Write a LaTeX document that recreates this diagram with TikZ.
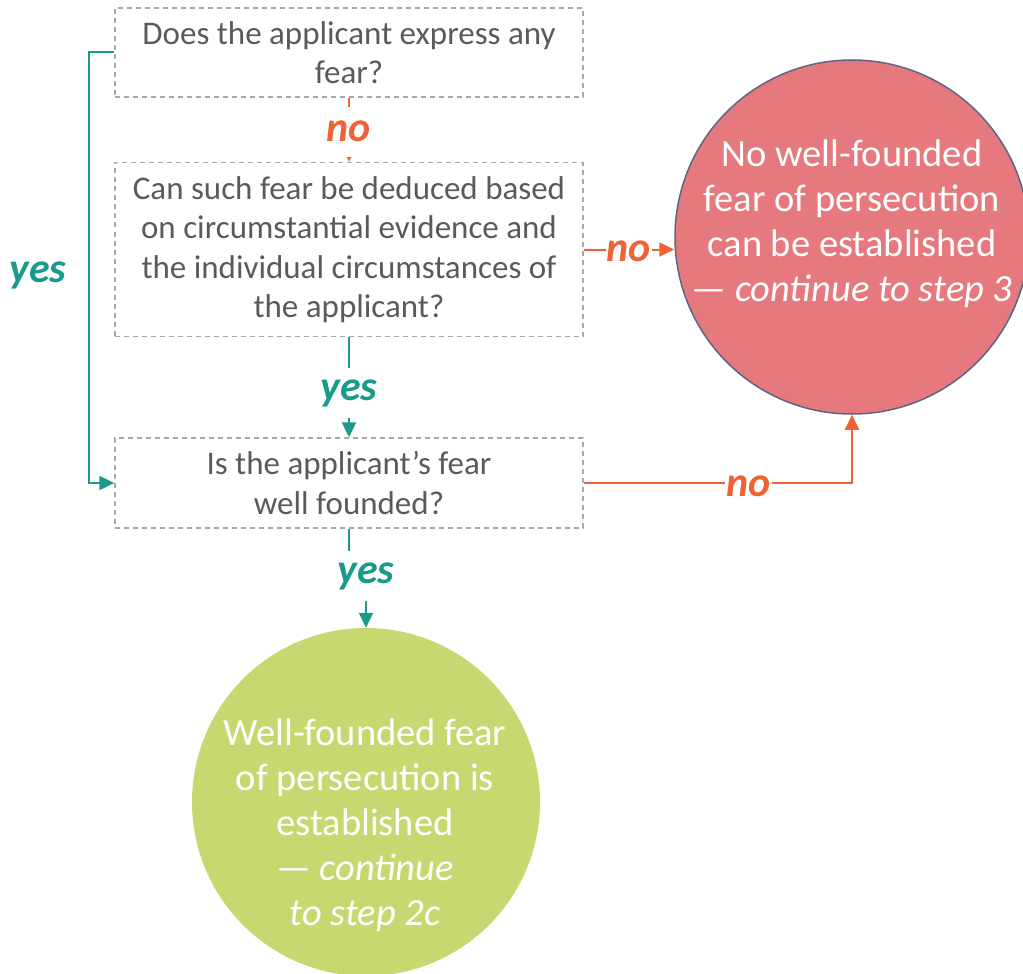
\documentclass[tikz,border=0pt]{standalone}
\usepackage{fontspec}
\setmainfont{Carlito}
\usetikzlibrary{arrows.meta}
\definecolor{flowteal}{HTML}{1A9A8A}
\definecolor{floworange}{HTML}{EF6236}
\definecolor{qtext}{HTML}{5A5A5A}
\definecolor{qframe}{HTML}{A8A8A8}
\definecolor{redfill}{HTML}{E6797D}
\definecolor{redrim}{HTML}{5D6582}
\definecolor{greenfill}{HTML}{C6D971}
\begin{document}
\begin{tikzpicture}[x=1pt,y=-1pt,
  question/.style={draw=qframe, dash pattern=on 5pt off 4pt, line width=1.3pt,
    minimum width=468pt, text=qtext, align=center, inner sep=0pt,
    font=\fontsize{33}{39.5}\selectfont},
  answer/.style={font=\fontsize{42}{42}\selectfont\bfseries\itshape,
    fill=white, inner xsep=1pt, inner ysep=0pt},
  vanswer/.style={answer, minimum height=50pt},
  link/.style={line width=2pt, -{Triangle[length=15pt,width=14pt]}},
  plain/.style={line width=2pt},
  outcome/.style={circle, inner sep=0pt},
  outtext/.style={text=white, align=center, font=\fontsize{38.5}{45}\selectfont}
]
\useasboundingbox (0,0) rectangle (1023,974);
\clip (0,0) rectangle (1023,974);

% question boxes
\node[question, minimum height=89pt] (q1) at (349,52.5)
  {Does the applicant express any\\fear?};
\node[question, minimum height=174pt] (q2) at (349,249.5)
  {Can such fear be deduced based\\on circumstantial evidence and\\the individual circumstances of\\the applicant?};
\node[question, minimum height=90pt] (q3) at (349,483)
  {Is the applicant’s fear\\well founded?};

% outcome circles
\node[outcome, draw=redrim, line width=1.5pt, fill=redfill, minimum size=354pt] (neg) at (852,237) {};
\node[outtext] (negtext) at (852,224)
  {No well-founded\\fear of persecution\\can be established\\— \textit{continue to step 3}};
\node[outcome, fill=greenfill, minimum size=348pt] (pos) at (366,802) {};
\node[outtext] (postext) at (365,825)
  {Well-founded fear\\of persecution is\\established\\— \textit{continue}\\\textit{to step 2c}};

% connectors
\draw[link, floworange] (q1.south) -- node[vanswer, text=floworange, yshift=-2pt] {no} (q2.north);
\draw[link, flowteal] (q2.south) -- node[vanswer, text=flowteal, yshift=-6pt] {yes} (q3.north);
\draw[link, floworange] (q2.east) -- node[answer, text=floworange, yshift=-2pt] {no} (neg.west |- q2.east);
\draw[link, floworange] (q3.east) -| node[answer, text=floworange, pos=0.307, yshift=-3pt] {no} (neg.south);

\draw[link, flowteal] (q1.west) -- ++(-25,0) coordinate (bend) |- (q3.west);
\node[font=\fontsize{42}{42}\selectfont\bfseries\itshape, text=flowteal] (yesleft) at (38,275) {yes};

\node[vanswer, text=flowteal] (yesdown) at (366,576) {yes};
\draw[plain, flowteal] (q3.south) -- (q3.south |- yesdown.north);
\draw[link, flowteal] (yesdown.south) -- (pos.north);
\end{tikzpicture}
\end{document}
